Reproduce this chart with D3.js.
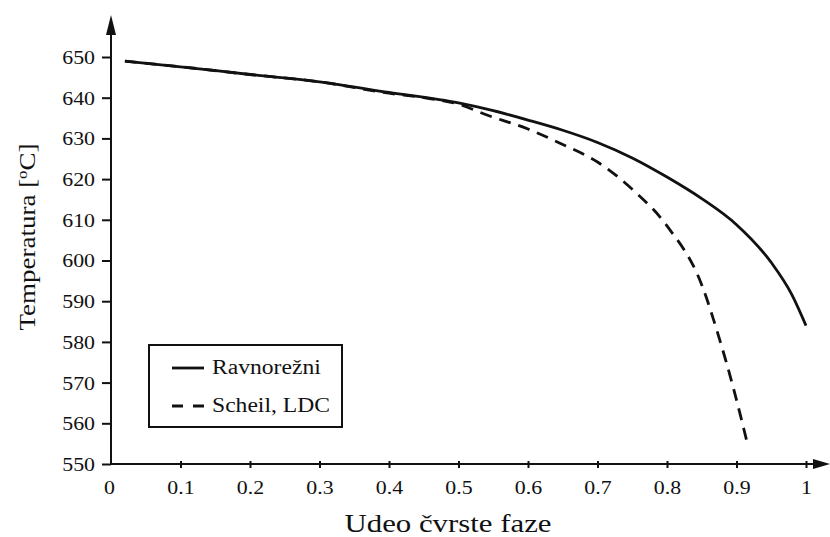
<!DOCTYPE html>
<html>
<head>
<meta charset="utf-8">
<script src="https://cdn.jsdelivr.net/npm/d3@7"></script>
<style>
  body { margin: 0; background: #fff; }
  svg { display: block; }
  text { font-family: "Liberation Serif", "Times New Roman", serif; fill: #111; }
</style>
</head>
<body>
<div id="chart"></div>
<script>
// ---------------------------------------------
// ---------          Data           -----------
// ---------------------------------------------

const xTicks = [0, 0.1, 0.2, 0.3, 0.4, 0.5, 0.6, 0.7, 0.8, 0.9, 1];
const xTickLabels = ["0", "0.1", "0.2", "0.3", "0.4", "0.5", "0.6", "0.7", "0.8", "0.9", "1"];
const yTicks = [550, 560, 570, 580, 590, 600, 610, 620, 630, 640, 650];

const seriesNames = ["Ravnorežni", "Scheil, LDC"];

// equilibrium (solid)
const eqFrac = [0.02, 0.1, 0.2, 0.3, 0.4, 0.5, 0.55, 0.6, 0.65, 0.7, 0.75, 0.8, 0.85, 0.9, 0.95, 0.98, 1.0];
const eqTemp = [649.0, 647.6, 645.7, 643.9, 641.3, 638.7, 636.8, 634.5, 632.0, 629.0, 625.2, 620.5, 615.2, 608.8, 599.5, 591.5, 584.0];

// Scheil (dashed)
const scheilFrac = [0.02, 0.1, 0.2, 0.3, 0.4, 0.45, 0.5, 0.54, 0.6, 0.65, 0.7, 0.75, 0.8, 0.85, 0.875, 0.895, 0.915];
const scheilTemp = [649.0, 647.6, 645.7, 643.9, 641.1, 640.0, 638.4, 635.8, 632.3, 628.5, 624.2, 617.5, 608.5, 594.0, 581.0, 569.0, 555.5];

const xLabel = "Udeo čvrste faze";

// ---------------------------------------------
// ---------         Layout          -----------
// ---------------------------------------------

const W = 830, H = 537;
const x = d3.scaleLinear().domain([0, 1]).range([111, 806]);
const y = d3.scaleLinear().domain([550, 650]).range([464, 57]);

const svg = d3.select("#chart").append("svg")
  .attr("width", W)
  .attr("height", H);

// text in the reference is a bit wide, stretch it
function stretch(sel, k) {
  sel.each(function() {
    const len = this.getComputedTextLength();
    d3.select(this).attr("textLength", len * k).attr("lengthAdjust", "spacingAndGlyphs");
  });
}

// Y axis
const yAxis = svg.append("g")
  .attr("transform", "translate(111,0)")
  .call(d3.axisLeft(y).tickValues(yTicks).tickSize(9).tickPadding(7).tickFormat(d3.format("d")));
yAxis.select(".domain").remove();
yAxis.selectAll(".tick line").attr("stroke", "#111").attr("stroke-width", 2);
yAxis.selectAll(".tick text")
  .attr("font-size", 19)
  .attr("fill", "#111")
  .attr("x", -16)
  .attr("dy", "0.34em")
  .call(stretch, 1.15);

// X axis
const xAxis = svg.append("g")
  .attr("transform", "translate(0,464)")
  .call(d3.axisBottom(x).tickValues(xTicks).tickFormat((d, i) => xTickLabels[i]));
xAxis.select(".domain").remove();
xAxis.selectAll(".tick line")
  .attr("y1", -3).attr("y2", 4)
  .attr("stroke", "#111").attr("stroke-width", 2)
  .filter(d => d === 0).remove();
xAxis.selectAll(".tick text")
  .attr("font-size", 19)
  .attr("fill", "#111")
  .attr("y", 30)
  .attr("dy", 0)
  .call(stretch, 1.15);
xAxis.selectAll(".tick text").filter(d => d === 0).attr("dx", -2);

// axis lines with arrows
svg.append("line")
  .attr("x1", 111).attr("y1", 464).attr("x2", 820).attr("y2", 464)
  .attr("stroke", "#111").attr("stroke-width", 2);
svg.append("line")
  .attr("x1", 111).attr("y1", 464).attr("x2", 111).attr("y2", 25)
  .attr("stroke", "#111").attr("stroke-width", 2);
svg.append("path")
  .attr("d", "M813,459 L830,464 L813,469 Z")
  .attr("fill", "#111");
svg.append("path")
  .attr("d", "M106,35 L111,15 L116,35 Z")
  .attr("fill", "#111");

// axis titles
svg.append("text")
  .attr("x", 448).attr("y", 532)
  .attr("text-anchor", "middle")
  .attr("font-size", 26)
  .attr("textLength", 207).attr("lengthAdjust", "spacingAndGlyphs")
  .text(xLabel);

const yt = svg.append("text")
  .attr("transform", "translate(35,237) rotate(-90)")
  .attr("text-anchor", "middle")
  .attr("font-size", 24)
  .attr("textLength", 187).attr("lengthAdjust", "spacingAndGlyphs");
yt.append("tspan").text("Temperatura [");
yt.append("tspan").attr("font-size", 15).attr("dy", -8).text("o");
yt.append("tspan").attr("dy", 8).text("C]");

// ---------------------------------------------
// ---------        Curves           -----------
// ---------------------------------------------

const line = d3.line()
  .x(d => x(d[0]))
  .y(d => y(d[1]))
  .curve(d3.curveMonotoneX);

const eqData = eqFrac.map((f, i) => [f, eqTemp[i]]);
const scheilData = scheilFrac.map((f, i) => [f, scheilTemp[i]]);

svg.append("path")
  .datum(scheilData)
  .attr("d", line)
  .attr("fill", "none")
  .attr("stroke", "#111")
  .attr("stroke-width", 2.8)
  .attr("stroke-dasharray", "12,8");

svg.append("path")
  .datum(eqData)
  .attr("d", line)
  .attr("fill", "none")
  .attr("stroke", "#111")
  .attr("stroke-width", 2.8);

// ---------------------------------------------
// ---------        Legend           -----------
// ---------------------------------------------

const legend = svg.append("g");
legend.append("rect")
  .attr("x", 149).attr("y", 345)
  .attr("width", 193).attr("height", 82)
  .attr("fill", "#fff")
  .attr("stroke", "#111").attr("stroke-width", 2);

const dashes = [null, "11,10"];
seriesNames.forEach((name, i) => {
  const ly = 368 + i * 38;
  legend.append("line")
    .attr("x1", 172).attr("x2", 204)
    .attr("y1", ly).attr("y2", ly)
    .attr("stroke", "#111").attr("stroke-width", 2.8)
    .attr("stroke-dasharray", dashes[i]);
  legend.append("text")
    .attr("x", 212).attr("y", ly + 6)
    .attr("font-size", 20)
    .text(name)
    .call(stretch, 1.18);
});
</script>
</body>
</html>
